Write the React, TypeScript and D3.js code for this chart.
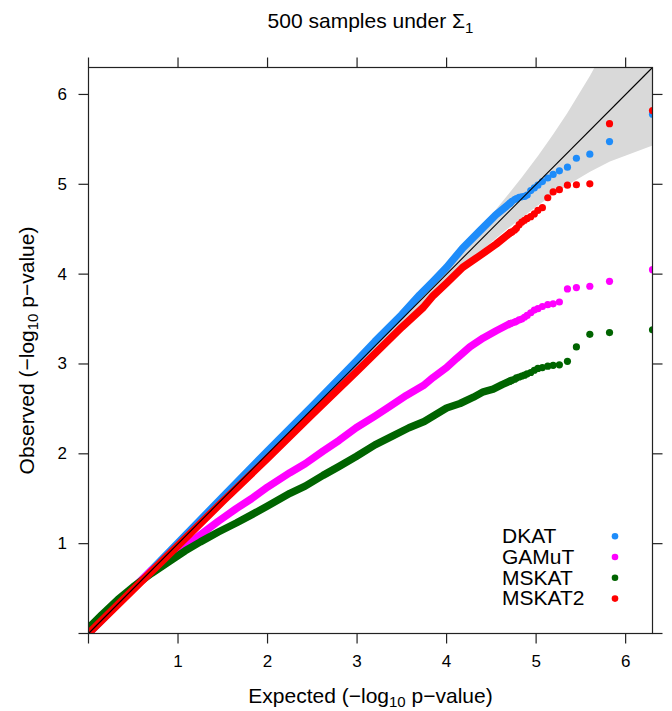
import * as d3 from 'd3'

// expected -log10(p) of the 20 smallest p-values (k = 1..20), shared by all tests
const tailExpected = [6.30, 5.82, 5.60, 5.45, 5.35, 5.26, 5.19, 5.13, 5.07, 5.02, 4.98, 4.94, 4.90, 4.87, 4.84, 4.81, 4.78, 4.76, 4.73, 4.71]

// observed -log10(p) for those tail points
const dkatTail = [5.78, 5.475, 5.335, 5.29, 5.19, 5.15, 5.11, 5.07, 5.03, 4.99, 4.96, 4.93, 4.88, 4.865, 4.86, 4.855, 4.84, 4.83, 4.81, 4.79]
const gamutTail = [4.05, 3.92, 3.865, 3.85, 3.835, 3.69, 3.67, 3.66, 3.64, 3.615, 3.60, 3.57, 3.54, 3.52, 3.50, 3.49, 3.475, 3.465, 3.455, 3.45]
const mskatTail = [3.38, 3.35, 3.33, 3.19, 3.03, 2.99, 2.985, 2.975, 2.96, 2.95, 2.93, 2.905, 2.89, 2.875, 2.865, 2.855, 2.845, 2.83, 2.82, 2.81]
const mskat2Tail = [5.82, 5.675, 5.005, 4.995, 4.99, 4.94, 4.915, 4.85, 4.74, 4.71, 4.67, 4.64, 4.62, 4.60, 4.58, 4.55, 4.51, 4.49, 4.47, 4.46]

// the dense bulk of each QQ cloud, [expected, observed]
const dkatDense: [number, number][] = [
  [0, 0], [0.5, 0.5], [1, 1.01], [1.5, 1.52], [2, 2.03], [2.5, 2.53], [3, 3.04], [3.2, 3.25],
  [3.5, 3.55], [3.7, 3.77], [3.85, 3.92], [4.0, 4.075], [4.18, 4.29], [4.37, 4.48], [4.55, 4.66], [4.71, 4.79],
]
const gamutDense: [number, number][] = [
  [0, 0.01], [0.4, 0.41], [0.7, 0.7], [0.8, 0.77], [0.89, 0.835], [1.08, 0.97], [1.25, 1.1], [1.45, 1.25],
  [1.65, 1.39], [1.82, 1.5], [2.0, 1.63], [2.25, 1.79], [2.42, 1.89], [2.62, 2.03], [2.8, 2.15], [2.99, 2.29],
  [3.2, 2.42], [3.37, 2.53], [3.55, 2.65], [3.74, 2.76], [3.85, 2.85], [4.0, 2.96], [4.11, 3.06], [4.26, 3.19],
  [4.41, 3.29], [4.555, 3.37], [4.71, 3.45],
]
const mskatDense: [number, number][] = [
  [0, 0.06], [0.15, 0.21], [0.33, 0.38], [0.5, 0.52], [0.705, 0.67], [0.9, 0.8], [1.08, 0.92], [1.25, 1.02],
  [1.45, 1.13], [1.65, 1.23], [1.82, 1.32], [2.0, 1.42], [2.25, 1.56], [2.42, 1.64], [2.62, 1.76], [2.8, 1.86],
  [2.99, 1.97], [3.2, 2.1], [3.4, 2.2], [3.58, 2.29], [3.75, 2.36], [4.0, 2.51], [4.15, 2.56], [4.3, 2.63],
  [4.41, 2.69], [4.52, 2.72], [4.62, 2.77], [4.71, 2.81],
]
const mskat2Dense: [number, number][] = [
  [0, 0], [0.5, 0.49], [1, 0.98], [1.5, 1.47], [2, 1.95], [2.5, 2.44], [3, 2.92], [3.5, 3.41],
  [3.74, 3.63], [3.85, 3.76], [4.0, 3.9], [4.18, 4.075], [4.37, 4.205], [4.555, 4.335], [4.71, 4.46],
]

// 95% confidence band around the diagonal
const bandExpected = [0, 2.0, 3.0, 3.301, 3.7, 4.002, 4.305, 4.53, 4.71, 4.839, 5.022, 5.187, 5.347, 5.602, 5.824, 6.301]
const bandLower = [0, 1.991, 2.973, 3.264, 3.643, 3.917, 4.188, 4.379, 4.528, 4.629, 4.768, 4.881, 4.99, 5.141, 5.254, 5.433]
const bandUpper = [0, 2.009, 3.028, 3.341, 3.762, 4.089, 4.431, 4.694, 4.913, 5.076, 5.319, 5.551, 5.79, 6.208, 6.616, 7.597]

const tickValues = [0, 1, 2, 3, 4, 5, 6]
const seriesNames = ['DKAT', 'GAMuT', 'MSKAT', 'MSKAT2']
const seriesColors = ['#1E8CFA', '#FF00FF', '#006400', '#FF0000']

const font = 'Liberation Sans, Arial, Helvetica, sans-serif'

export default function App() {
  const x = d3.scaleLinear().domain([0, 6.3]).range([88.5, 652.5])
  const y = d3.scaleLinear().domain([0, 6.3]).range([633.5, 67.5])
  const [x0, x1] = x.range()
  const [y0, y1] = y.range()

  const line = d3.line<[number, number]>().x(d => x(d[0])).y(d => y(d[1]))
  const band = d3.area<number>()
    .x(i => x(bandExpected[i]))
    .y0(i => y(bandLower[i]))
    .y1(i => y(bandUpper[i]))

  const dense = [dkatDense, gamutDense, mskatDense, mskat2Dense]
  const tails = [dkatTail, gamutTail, mskatTail, mskat2Tail]
  const tk = 10

  return (
    <svg width={672} height={711} style={{ position: 'absolute', left: 0, top: 0, fontFamily: font }}>
      <defs>
        <clipPath id="panel">
          <rect x={x0} y={y1} width={x1 - x0} height={y0 - y1} />
        </clipPath>
      </defs>

      <text x={(x0 + x1) / 2} y={28} textAnchor="middle" fontSize={21} fill="#000">
        500 samples under Σ<tspan fontSize={15} dy={5}>1</tspan>
      </text>

      <g clipPath="url(#panel)">
        <path d={band(d3.range(bandExpected.length)) || ''} fill="#D9D9D9" />
        {dense.map((pts, s) => (
          <g key={seriesNames[s]}>
            <path d={line(pts) || ''} fill="none" stroke={seriesColors[s]} strokeWidth={7.5}
              strokeLinecap="round" strokeLinejoin="round" />
            {tails[s].map((v, i) => (
              <circle key={i} cx={x(tailExpected[i])} cy={y(v)} r={3.6} fill={seriesColors[s]} />
            ))}
          </g>
        ))}
        <line x1={x(0)} y1={y(0)} x2={x(6.3)} y2={y(6.3)} stroke="#000" strokeWidth={1.1} />
      </g>

      <rect x={x0} y={y1} width={x1 - x0} height={y0 - y1} fill="none" stroke="#222" strokeWidth={1.2} />

      {tickValues.map(v => (
        <g key={v} stroke="#222" strokeWidth={1.2}>
          <line x1={x(v)} x2={x(v)} y1={y0} y2={y0 + tk} />
          <line x1={x(v)} x2={x(v)} y1={y1} y2={y1 - tk} />
          <line x1={x0} x2={x0 - tk} y1={y(v)} y2={y(v)} />
          <line x1={x1} x2={x1 + tk} y1={y(v)} y2={y(v)} />
        </g>
      ))}
      {tickValues.filter(v => v > 0).map(v => (
        <g key={'l' + v} fontSize={17} fill="#000">
          <text x={x(v)} y={667} textAnchor="middle">{v}</text>
          <text x={67} y={y(v)} textAnchor="end" dominantBaseline="central">{v}</text>
        </g>
      ))}

      <text x={(x0 + x1) / 2} y={703} textAnchor="middle" fontSize={21} fill="#000">
        Expected (−log<tspan fontSize={15} dy={4}>10</tspan><tspan dy={-4}> p−value)</tspan>
      </text>
      <text transform={`translate(34,${(y0 + y1) / 2}) rotate(-90)`} textAnchor="middle" fontSize={21} fill="#000">
        Observed (−log<tspan fontSize={15} dy={4}>10</tspan><tspan dy={-4}> p−value)</tspan>
      </text>

      {seriesNames.map((name, i) => (
        <g key={name}>
          <text x={502} y={543 + i * 20.8} fontSize={21} fill="#000">{name}</text>
          <circle cx={615} cy={536.2 + i * 20.8} r={3.3} fill={seriesColors[i]} />
        </g>
      ))}
    </svg>
  )
}
